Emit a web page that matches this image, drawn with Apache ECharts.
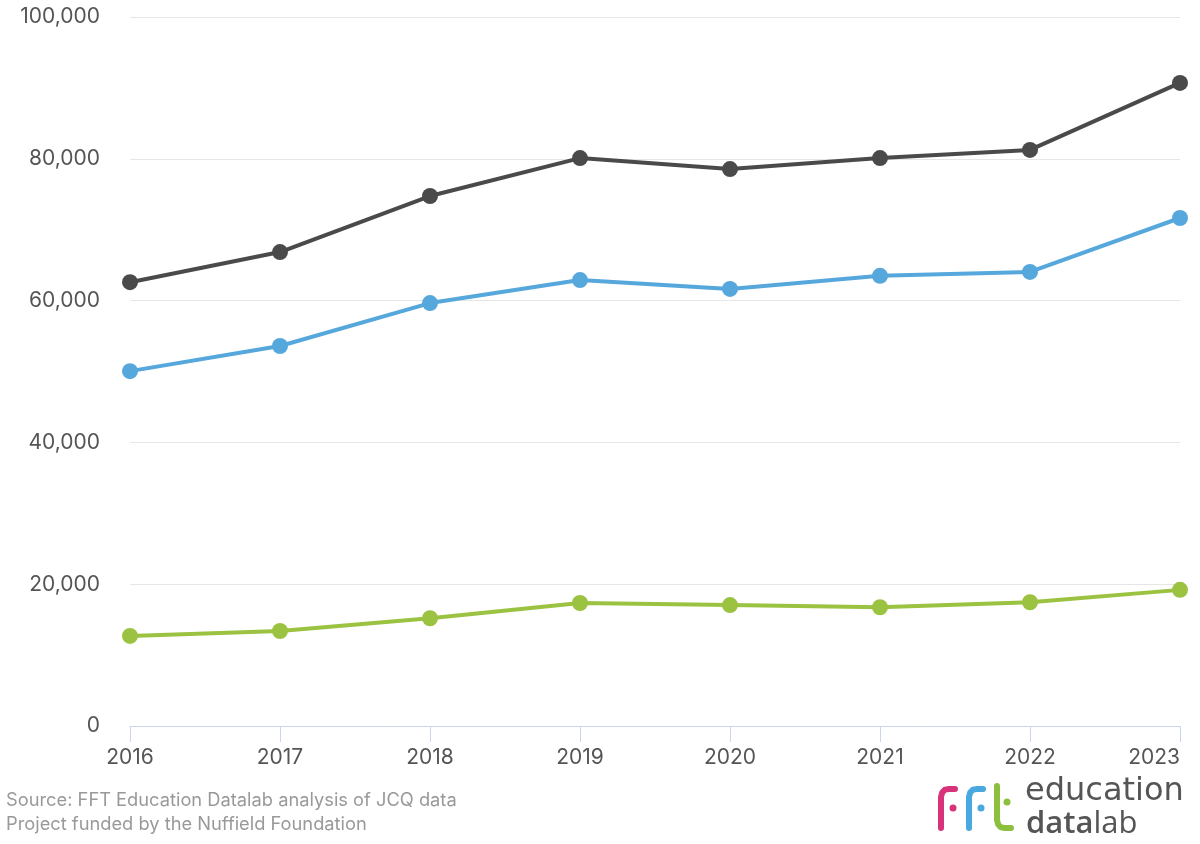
<!DOCTYPE html>
<html>
<head>
<meta charset="utf-8">
<script src="https://cdn.jsdelivr.net/npm/echarts@6/dist/echarts.min.js"></script>
<style>
  html, body { margin: 0; padding: 0; background: #fff; }
  #chart { width: 1200px; height: 844px; }
</style>
</head>
<body>
<div id="chart"></div>
<script>
var years = ['2016', '2017', '2018', '2019', '2020', '2021', '2022', '2023'];
var totalData = [62600, 66850, 74750, 80100, 78550, 80100, 81250, 90700];
var blueData = [50050, 53600, 59650, 62900, 61650, 63500, 64050, 71650];
var greenData = [12700, 13400, 15200, 17350, 17050, 16750, 17450, 19200];
var yTicks = [0, 20000, 40000, 60000, 80000, 100000];

var labelFont = 'Inter, "Noto Sans", sans-serif';
var myChart = echarts.init(document.getElementById('chart'));

function lineSeries(name, color, data) {
  return {
    name: name,
    type: 'line',
    symbol: 'circle',
    symbolSize: 16,
    itemStyle: { color: color },
    lineStyle: { width: 4, color: color },
    data: data
  };
}

// fft logo strokes
function stroke(points, color) {
  return {
    type: 'polyline',
    shape: { points: points },
    style: { fill: null, stroke: color, lineWidth: 6, lineCap: 'round', lineJoin: 'round' }
  };
}
function dot(x, y, color) {
  return { type: 'circle', shape: { cx: x, cy: y, r: 3.5 }, style: { fill: color } };
}
function fShape(x) {
  return [[x, 828], [x, 797], [x + 1.2, 792.5], [x + 4, 789.6], [x + 8, 789], [x + 14, 789]];
}

var option = {
  animation: false,
  grid: { left: 130, right: 20, top: 17, bottom: 118 },
  xAxis: {
    type: 'category',
    boundaryGap: false,
    data: years,
    axisLine: { show: true, lineStyle: { color: '#ccd6eb', width: 1 } },
    axisTick: { show: true, alignWithLabel: true, length: 16, lineStyle: { color: '#ccd6eb' } },
    axisLabel: {
      margin: 21,
      color: '#555',
      fontSize: 21,
      fontFamily: labelFont,
      alignMaxLabel: 'right'
    },
    splitLine: { show: false }
  },
  yAxis: {
    type: 'value',
    min: yTicks[0],
    max: yTicks[yTicks.length - 1],
    interval: 20000,
    axisLine: { show: false },
    axisTick: { show: false },
    axisLabel: {
      margin: 30,
      color: '#555',
      fontSize: 21,
      fontFamily: labelFont,
      formatter: function (v) { return v.toLocaleString('en-US'); }
    },
    splitLine: { show: true, lineStyle: { color: '#e6e6e6', width: 1 } }
  },
  series: [
    lineSeries('Total', '#4a4a4a', totalData),
    lineSeries('Blue', '#56a8dc', blueData),
    lineSeries('Green', '#9bc241', greenData)
  ],
  graphic: [
    {
      type: 'text', x: 6, y: 792,
      style: { text: 'Source: FFT Education Datalab analysis of JCQ data', fill: '#999', font: '18.3px ' + labelFont }
    },
    {
      type: 'text', x: 6, y: 816,
      style: { text: 'Project funded by the Nuffield Foundation', fill: '#999', font: '18.3px ' + labelFont }
    },
    stroke(fShape(941), '#d6337a'),
    dot(953, 808, '#d6337a'),
    stroke(fShape(969), '#4aa8e0'),
    dot(981, 808, '#4aa8e0'),
    stroke([[997, 786], [997, 820], [998.2, 824.5], [1001, 827.4], [1005, 828], [1011, 828]], '#8dbf3f'),
    dot(1007, 802, '#8dbf3f'),
    {
      type: 'text', x: 1025, y: 776,
      style: { text: 'education', fill: '#555', font: '32px "DejaVu Sans", sans-serif' }
    },
    {
      type: 'text', x: 1026, y: 809,
      style: {
        text: '{b|data}{r|lab}',
        rich: {
          b: { fill: '#555', fontFamily: '"Open Sans", sans-serif', fontSize: 31, fontWeight: 600 },
          r: { fill: '#555', fontFamily: '"Open Sans", sans-serif', fontSize: 31 }
        }
      }
    }
  ]
};

myChart.setOption(option);
</script>
</body>
</html>
